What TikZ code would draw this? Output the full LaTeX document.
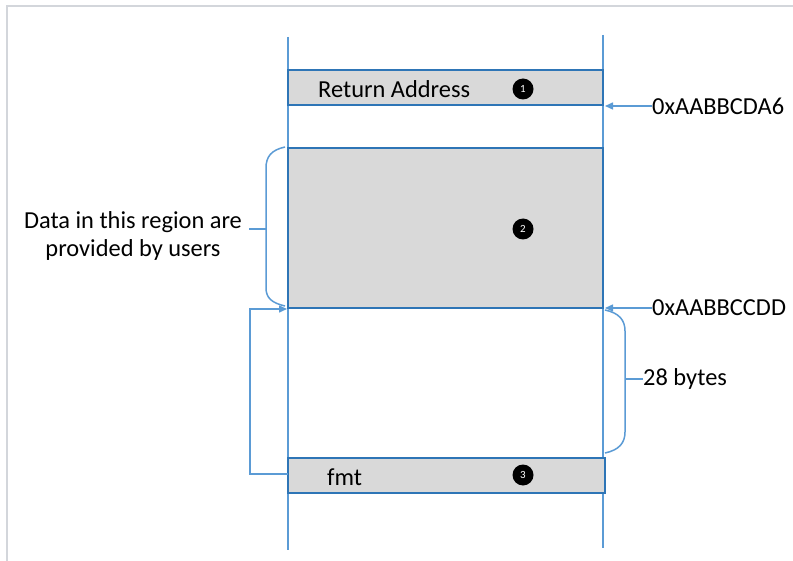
\documentclass[tikz,border=0pt]{standalone}
\usepackage{fontspec}
\setmainfont{Carlito}
\usetikzlibrary{arrows.meta}
\definecolor{lineblue}{HTML}{5B9BD5}
\definecolor{boxblue}{HTML}{2E75B6}
\definecolor{boxgray}{HTML}{D9D9D9}
\definecolor{framegray}{HTML}{D3D6DB}
\begin{document}
\begin{tikzpicture}[x=1bp,y=-1bp,
  frameline/.style={draw=framegray,line width=2bp},
  thinline/.style={draw=lineblue,line width=1.5bp},
  stackbox/.style={draw=boxblue,fill=boxgray,line width=2.5bp,rectangle,inner sep=0pt,outer sep=0pt},
  badge/.style={circle,fill=black,text=white,inner sep=0pt,minimum size=21bp,font=\fontsize{11}{11}\selectfont},
  lbl/.style={font=\fontsize{24.5}{28}\selectfont,inner sep=0pt},
  arr/.style={thinline,-{Triangle[length=8bp,width=7bp]}}
]
\useasboundingbox (0,0) rectangle (793,561);
\fill[white] (0,0) rectangle (793,561);
\draw[frameline] (7,561) -- (7,6) -- (793,6);

% stack side lines
\coordinate (lt) at (288,37);
\coordinate (lb) at (288,550);
\coordinate (rt) at (603,35);
\coordinate (rb) at (603,548);
\draw[thinline] (lt) -- (lb);
\draw[thinline] (rt) -- (rb);

% boxes
\node[stackbox,minimum width=315bp,minimum height=35bp] (ret) at (445.5,87.5) {};
\node[stackbox,minimum width=315bp,minimum height=160bp] (user) at (445.5,228) {};
\node[stackbox,minimum width=317bp,minimum height=35bp] (fmt) at (446.5,475.5) {};

\node[lbl,anchor=west] (rettxt) at (318,89) {Return Address};
\node[lbl,anchor=west] (fmttxt) at (327,477) {fmt};
\node[badge] (b1) at (523,89) {1};
\node[badge] (b2) at (523,229) {2};
\node[badge] (b3) at (523,475) {3};

% addresses
\node[lbl,anchor=west] (a1) at (652,106) {0xAABBCDA6};
\node[lbl,anchor=west] (a2) at (652,308) {0xAABBCCDD};
\coordinate (a1tip) at (605,106);
\coordinate (a2tip) at (605,308);
\draw[arr] (a1.west) -- (a1tip);
\draw[arr] (a2.west) -- (a2tip);

% left brace
\node[lbl,align=center] (usertxt) at (133,236) {Data in this region are\\provided by users};
\draw[thinline] (285,147) .. controls (271,150) and (266,157) .. (266,168) -- (266,288)
  .. controls (266,298) and (272,303) .. (285,306);
\coordinate (lbr) at (266,229);
\coordinate (lbrend) at (249,229);
\draw[thinline] (lbr) -- (lbrend);

% right brace
\node[lbl,anchor=west] (bytes) at (643,379) {28 bytes};
\draw[thinline] (605,310) .. controls (619,313) and (625,320) .. (625,331) -- (625,432)
  .. controls (625,443) and (619,450) .. (605,453);
\coordinate (rbr) at (625,379);
\draw[thinline] (rbr) -- (bytes.west);

% loop arrow from fmt
\coordinate (lp1) at (250,474);
\coordinate (lp2) at (250,309);
\coordinate (lptip) at (287,309);
\draw[arr] (fmt.west |- lp1) -- (lp1) -- (lp2) -- (lptip);
\end{tikzpicture}
\end{document}
